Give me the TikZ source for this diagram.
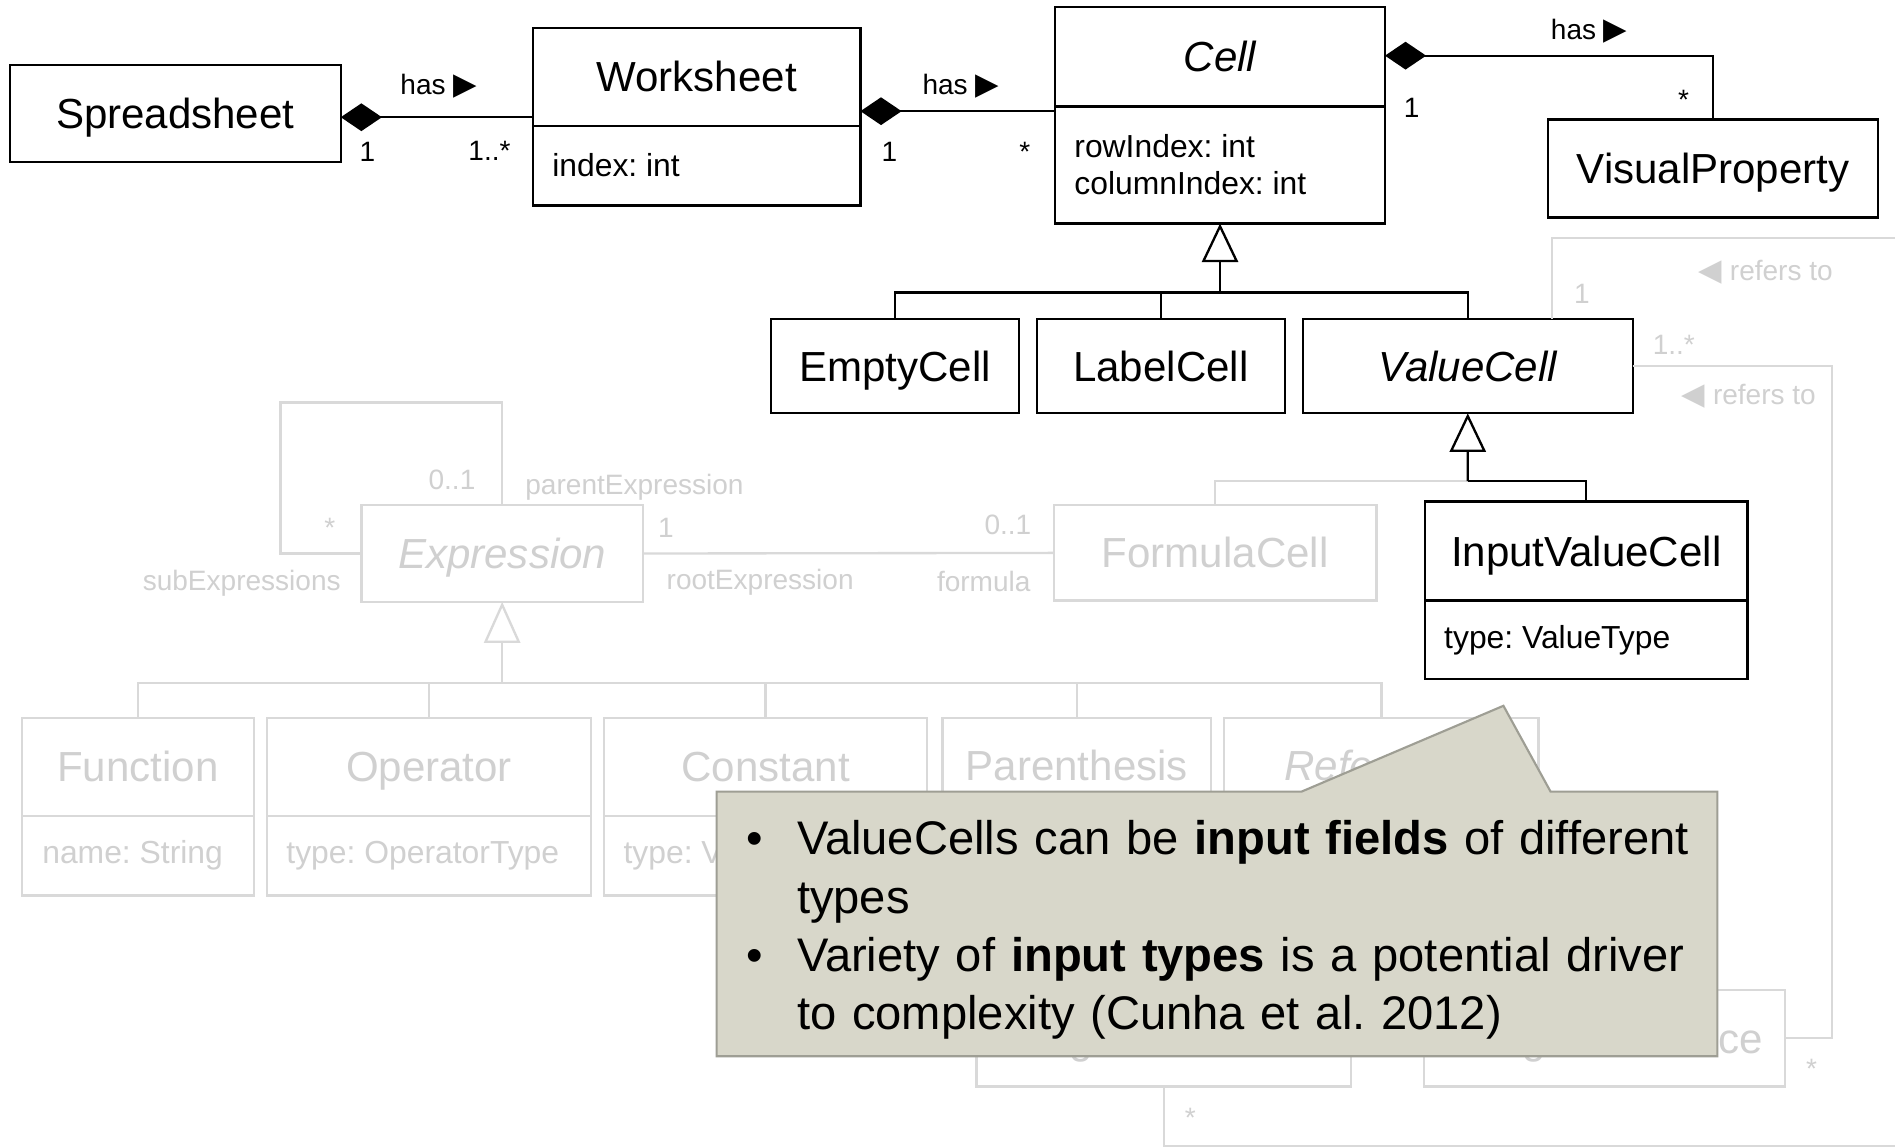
\documentclass[tikz,border=0pt]{standalone}
\usepackage{fontspec}
\setmainfont{Liberation Sans}
\newfontfamily\symfont{DejaVu Sans}
\usetikzlibrary{arrows.meta, positioning, shapes.multipart}
\frenchspacing

\definecolor{ghostline}{RGB}{217,217,217}
\definecolor{ghosttext}{RGB}{208,208,208}
\definecolor{notefill}{RGB}{216,215,202}
\definecolor{noteedge}{RGB}{158,158,148}

\newcommand{\namefont}{\fontsize{9.9}{11.5}\selectfont}
\newcommand{\attrfont}{\fontsize{7.5}{8.8}\selectfont}
\newcommand{\lblfont}{\fontsize{6.6}{7.5}\selectfont}
\newcommand{\notefont}{\fontsize{11.1}{13.7}\selectfont}
\newcommand{\umlpart}[3]{\parbox[c][#1][c]{#2}{#3}}
\newcommand{\capbox}[1]{\raisebox{0pt}[7.1pt][0pt]{#1}}
\newcommand{\rarr}{{\symfont\fontsize{7.2}{8}\selectfont ▶}}
\newcommand{\larr}{{\symfont\fontsize{7.2}{8}\selectfont ◀}}

\begin{document}
\begin{tikzpicture}[x=0.1mm, y=-0.1mm,
    cls/.style={rectangle, draw, line width=0.55pt, inner sep=0pt, outer sep=0pt, font=\namefont},
    box/.style={cls, text height=7.1pt, text depth=0pt},
    cls2/.style={cls, rectangle split, rectangle split parts=2},
    faded/.style={draw=ghostline, text=ghosttext},
    lbl/.style={inner sep=0pt, font=\lblfont},
    glbl/.style={lbl, text=ghosttext},
    conn/.style={line width=0.55pt},
    gconn/.style={conn, draw=ghostline},
    comp/.style={conn, {Diamond[length=3.4mm, width=2.3mm]}-},
    gen/.style={conn, -{Triangle[open, length=3.2mm, width=3mm]}},
    ggen/.style={gconn, -{Triangle[open, length=3.4mm, width=3mm]}},
    hint/.style={draw=noteedge, fill=notefill, line width=0.5pt, line join=miter},
]
    \path[use as bounding box, fill=white] (0,0) rectangle (1568,949);

    % faded part of the model
    \node[box, faded, minimum width=23.3mm, minimum height=8mm] (expr) at (415.5,458) {\itshape Expression};
    \node[box, faded, minimum width=26.7mm, minimum height=7.9mm] (formula) at (1005.5,457.5) {FormulaCell};
    \node[cls2, faded] (func) at (114,667.5)
        {\umlpart{7.9mm}{19.2mm}{\centering\capbox{Function}}\nodepart{two}\umlpart{6.4mm}{19.2mm}{\attrfont\leftskip=1.7mm name: String}};
    \node[cls2, faded, right=1.1mm of func] (oper)
        {\umlpart{7.9mm}{26.8mm}{\centering\capbox{Operator}}\nodepart{two}\umlpart{6.4mm}{26.8mm}{\attrfont\leftskip=1.6mm type: OperatorType}};
    \node[cls2, faded, right=1.1mm of oper] (const)
        {\umlpart{7.9mm}{26.7mm}{\centering\capbox{Constant}}\nodepart{two}\umlpart{6.4mm}{26.7mm}{\attrfont\leftskip=1.6mm type: ValueType}};
    \node[box, faded, minimum width=22.2mm, minimum height=7.9mm, right=1.3mm of const.north east, anchor=north west] (paren) {Parenthesis};
    \node[box, faded, minimum width=26mm, minimum height=7.9mm, right=1.1mm of paren] (ref) {\itshape Reference};
    \node[box, faded, minimum width=31mm, minimum height=7.9mm] (sref) at (963,859.5) {SingleReference};
    \node[box, faded, minimum width=29.9mm, minimum height=8mm] (rref) at (1327.5,859) {RangeReference};

    % model in focus
    \node[box, minimum width=27.4mm, minimum height=8mm] (sheet) at (145,94) {Spreadsheet};
    \node[cls2] (worksheet) at (576.5,96.5)
        {\umlpart{7.9mm}{27.1mm}{\centering\capbox{Worksheet}}\nodepart{two}\umlpart{6.4mm}{27.1mm}{\attrfont\leftskip=1.6mm index: int}};
    \node[cls2] (cell) at (1009.5,95.5)
        {\umlpart{8mm}{27.3mm}{\centering\capbox{\itshape Cell}}\nodepart{two}\umlpart{9.5mm}{27.3mm}{\attrfont\leftskip=1.6mm rowIndex: int\\columnIndex: int}};
    \node[box, minimum width=27.3mm, minimum height=8.1mm] (visprop) at (1417.5,139.5) {VisualProperty};
    \node[box, minimum width=20.5mm, minimum height=7.8mm] (empty) at (740.5,303) {EmptyCell};
    \node[box, minimum width=20.5mm, minimum height=7.8mm, right=1.5mm of empty] (labelcell) {LabelCell};
    \node[box, minimum width=27.3mm, minimum height=7.8mm, right=1.5mm of labelcell] (value) {\itshape ValueCell};
    \node[cls2] (input) at (1312.5,488.5)
        {\umlpart{8mm}{26.7mm}{\centering\capbox{InputValueCell}}\nodepart{two}\umlpart{6.3mm}{26.7mm}{\attrfont\leftskip=1.6mm type: ValueType}};

    \coordinate (cellbus) at (1009.5,242);
    \coordinate (valbus)  at (1214.5,398);
    \coordinate (exprbus) at (415.5,565);
    \coordinate (selfloop) at (232,333);
    \coordinate (edgetop) at (1568,197);
    \coordinate (edgebot) at (1568,948);
    \coordinate (turn)    at (1516,859);

    % faded connectors
    \draw[gconn] (expr.west) -| (selfloop) -| (expr.north);
    \draw[gconn] (expr.east) -- (formula.west);
    \draw[ggen] (exprbus) -- (expr.south);
    \draw[gconn] (func.north) |- (exprbus) -| (ref.north);
    \foreach \kid in {oper, const, paren}
        \draw[gconn] (\kid.north) -- (\kid.north |- exprbus);
    \draw[gconn] (formula.north) |- (valbus);
    \draw[gconn] ([xshift=6.95mm]value.north) |- (edgetop);
    \draw[gconn] (value.east) -| (turn) -- (rref.east);
    \draw[gconn] (sref.south) |- (edgebot);

    \node[glbl] (pmul)   at (374,397) {0..1};
    \node[glbl] (prole)  at (525,403) {parentExpression};
    \node[glbl] (smul)   at (273,437) {*};
    \node[glbl] (srole)  at (200,483) {subExpressions};
    \node[glbl] (rmul)   at (551,437) {1};
    \node[glbl] (rrole)  at (629,482) {rootExpression};
    \node[glbl] (fmul)   at (834,434) {0..1};
    \node[glbl] (frole)  at (814,481) {formula};
    \node[glbl] (refa)   at (1461,225) {\larr\ refers to};
    \node[glbl] (refam)  at (1309,243) {1};
    \node[glbl] (refbm)  at (1385,285) {1..*};
    \node[glbl] (refb)   at (1447,328) {\larr\ refers to};
    \node[glbl] (rrefm)  at (1499,884) {*};
    \node[glbl] (srefm)  at (985,925) {*};

    % connectors in focus
    \draw[comp] ([yshift=-0.3mm]sheet.east) -- ([yshift=-0.3mm]sheet.east -| worksheet.west);
    \draw[comp] ([yshift=0.45mm]worksheet.east) -- ([yshift=0.45mm]worksheet.east -| cell.west);
    \draw[comp] ([yshift=-4mm]cell.north east) -| (visprop.north);
    \draw[gen] (cellbus) -- (cell.south);
    \draw[conn] (empty.north) |- (cellbus) -| (value.north);
    \draw[conn] (labelcell.north) -- (labelcell.north |- cellbus);
    \draw[gen] (valbus) -- (value.south);
    \draw[conn] (input.north) |- (valbus);

    \node[lbl] (has1) at (363,71)  {has \rarr};
    \node[lbl] (m1)   at (304,126) {1};
    \node[lbl] (m2)   at (405,125) {1..*};
    \node[lbl] (has2) at (795,71)  {has \rarr};
    \node[lbl] (m3)   at (736,126) {1};
    \node[lbl] (m4)   at (848,126) {*};
    \node[lbl] (has3) at (1315,26) {has \rarr};
    \node[lbl] (m5)   at (1168,89) {1};
    \node[lbl] (m6)   at (1393,83) {*};

    % remark
    \node[minimum width=82.8mm, minimum height=21.9mm, inner sep=0pt, outer sep=0pt] (remark) at (1007,764.5) {};
    \coordinate (tip) at (1244,584);
    \filldraw[hint] (remark.north west) -- ([xshift=48.4mm]remark.north west) -- (tip)
        -- ([xshift=-13.8mm]remark.north east) -- (remark.north east)
        -- (remark.south east) -- (remark.south west) -- cycle;
    \node[text width=78.9mm, inner sep=0pt, align=left, font=\notefont] (remarktext)
        at ([yshift=-0.55mm]remark.center) {%
        \begin{tabular}{@{}p{4.7mm}@{}l@{}}
        \hspace*{0.5mm}\textbullet & ValueCells can be \textbf{input fields} of different\\
         & types\\
        \hspace*{0.5mm}\textbullet & Variety of \textbf{input types} is a potential driver\\
         & to complexity (Cunha et al. 2012)
        \end{tabular}};
\end{tikzpicture}
\end{document}
